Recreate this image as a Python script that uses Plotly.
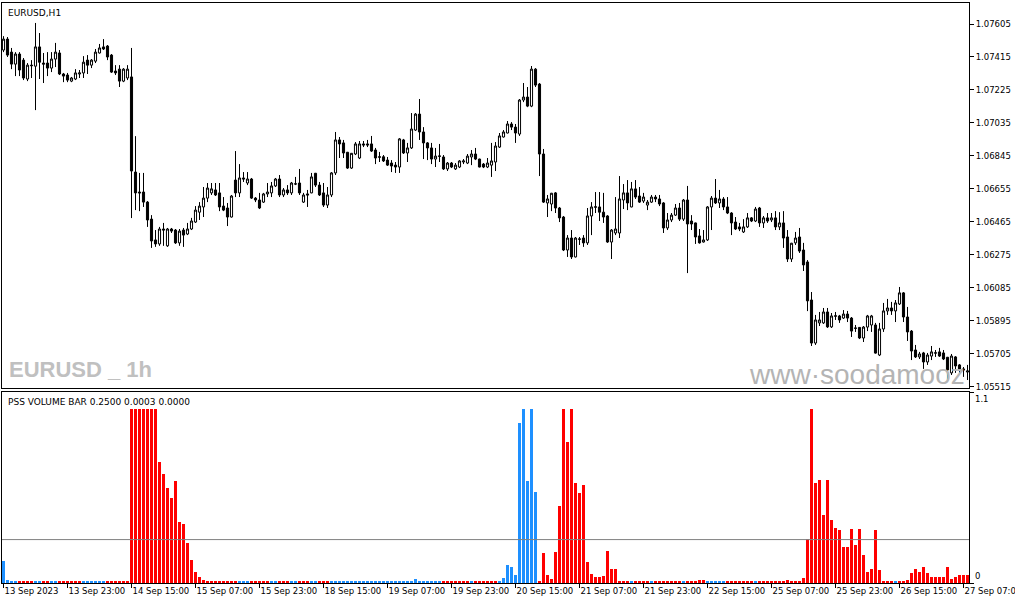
import plotly.graph_objects as go

# ---------------- data ----------------
opens = [
    1.07455, 1.07518, 1.07443, 1.07374, 1.07432, 1.07397, 1.07288, 1.07368, 1.07362, 1.07473,
    1.07380, 1.07380, 1.07351, 1.07403, 1.07438, 1.07317, 1.07311, 1.07276, 1.07288, 1.07317,
    1.07323, 1.07397, 1.07368, 1.07391, 1.07438, 1.07473, 1.07478, 1.07426, 1.07334, 1.07345,
    1.07276, 1.07294, 1.07300, 1.06752, 1.06637, 1.06637, 1.06579, 1.06481, 1.06361, 1.06338,
    1.06424, 1.06327, 1.06424, 1.06418, 1.06344, 1.06418, 1.06395, 1.06424, 1.06464, 1.06521,
    1.06551, 1.06602, 1.06632, 1.06649, 1.06632, 1.06556, 1.06545, 1.06493, 1.06706, 1.06632,
    1.06718, 1.06689, 1.06712, 1.06602, 1.06591, 1.06579, 1.06626, 1.06632, 1.06672, 1.06712,
    1.06620, 1.06649, 1.06632, 1.06683, 1.06689, 1.06579, 1.06626, 1.06632, 1.06745, 1.06677,
    1.06632, 1.06562, 1.06620, 1.06747, 1.06937, 1.06920, 1.06866, 1.06775, 1.06856, 1.06833,
    1.06914, 1.06914, 1.06914, 1.06879, 1.06840, 1.06840, 1.06821, 1.06804, 1.06792, 1.06781,
    1.06937, 1.06862, 1.06891, 1.06994, 1.07086, 1.06983, 1.06920, 1.06891, 1.06827, 1.06845,
    1.06839, 1.06770, 1.06804, 1.06770, 1.06781, 1.06810, 1.06804, 1.06839, 1.06856, 1.06827,
    1.06798, 1.06781, 1.06792, 1.06810, 1.06896, 1.06954, 1.06977, 1.07029, 1.07011, 1.06971,
    1.07167, 1.07184, 1.07132, 1.07345, 1.07259, 1.06856, 1.06574, 1.06568, 1.06632, 1.06545,
    1.06493, 1.06303, 1.06372, 1.06263, 1.06367, 1.06372, 1.06344, 1.06499, 1.06552, 1.06551,
    1.06521, 1.06499, 1.06349, 1.06401, 1.06401, 1.06591, 1.06632, 1.06551, 1.06655, 1.06614,
    1.06585, 1.06562, 1.06579, 1.06608, 1.06597, 1.06574, 1.06430, 1.06476, 1.06504, 1.06545,
    1.06481, 1.06591, 1.06470, 1.06459, 1.06384, 1.06349, 1.06361, 1.06551, 1.06602, 1.06574,
    1.06597, 1.06551, 1.06516, 1.06464, 1.06436, 1.06407, 1.06436, 1.06488, 1.06470, 1.06545,
    1.06459, 1.06488, 1.06476, 1.06488, 1.06436, 1.06459, 1.06378, 1.06251, 1.06344, 1.06378,
    1.06303, 1.06234, 1.06015, 1.05767, 1.05883, 1.05883, 1.05946, 1.05860, 1.05924, 1.05923,
    1.05911, 1.05934, 1.05911, 1.05854, 1.05857, 1.05796, 1.05859, 1.05871, 1.05871, 1.05698,
    1.05848, 1.05952, 1.05969, 1.05952, 1.05992, 1.06056, 1.05917, 1.05836, 1.05727, 1.05687,
    1.05710, 1.05658, 1.05692, 1.05711, 1.05716, 1.05710, 1.05685, 1.05595, 1.05687, 1.05641,
    1.05618, 1.05600,
]
highs = [
    1.07535, 1.07530, 1.07467, 1.07443, 1.07443, 1.07409, 1.07380, 1.07397, 1.07611, 1.07553,
    1.07438, 1.07443, 1.07443, 1.07496, 1.07455, 1.07323, 1.07323, 1.07300, 1.07345, 1.07340,
    1.07420, 1.07426, 1.07403, 1.07461, 1.07490, 1.07518, 1.07484, 1.07432, 1.07368, 1.07368,
    1.07351, 1.07368, 1.07467, 1.06959, 1.06747, 1.06747, 1.06585, 1.06504, 1.06418, 1.06436,
    1.06459, 1.06430, 1.06430, 1.06424, 1.06424, 1.06430, 1.06459, 1.06488, 1.06556, 1.06579,
    1.06666, 1.06689, 1.06689, 1.06689, 1.06689, 1.06608, 1.06574, 1.06620, 1.06873, 1.06798,
    1.06752, 1.06752, 1.06718, 1.06608, 1.06632, 1.06632, 1.06689, 1.06695, 1.06718, 1.06735,
    1.06660, 1.06677, 1.06695, 1.06724, 1.06770, 1.06632, 1.06649, 1.06747, 1.06747, 1.06695,
    1.06689, 1.06666, 1.06752, 1.06983, 1.06954, 1.06937, 1.06868, 1.06862, 1.06925, 1.06931,
    1.06931, 1.06937, 1.06960, 1.06891, 1.06868, 1.06850, 1.06839, 1.06821, 1.06810, 1.06948,
    1.06943, 1.06920, 1.07092, 1.07092, 1.07173, 1.07011, 1.06925, 1.06920, 1.06891, 1.06914,
    1.06850, 1.06810, 1.06810, 1.06804, 1.06821, 1.06827, 1.06856, 1.06879, 1.06891, 1.06829,
    1.06804, 1.06833, 1.06920, 1.06925, 1.06977, 1.06994, 1.07046, 1.07040, 1.07029, 1.07173,
    1.07265, 1.07242, 1.07363, 1.07351, 1.07265, 1.06885, 1.06620, 1.06632, 1.06637, 1.06551,
    1.06499, 1.06389, 1.06418, 1.06378, 1.06378, 1.06389, 1.06545, 1.06579, 1.06637, 1.06637,
    1.06632, 1.06504, 1.06424, 1.06608, 1.06729, 1.06683, 1.06706, 1.06695, 1.06706, 1.06666,
    1.06632, 1.06591, 1.06620, 1.06620, 1.06620, 1.06579, 1.06516, 1.06516, 1.06568, 1.06574,
    1.06597, 1.06672, 1.06504, 1.06461, 1.06424, 1.06418, 1.06556, 1.06614, 1.06712, 1.06649,
    1.06608, 1.06608, 1.06521, 1.06493, 1.06459, 1.06481, 1.06516, 1.06493, 1.06551, 1.06551,
    1.06499, 1.06516, 1.06516, 1.06527, 1.06521, 1.06527, 1.06418, 1.06344, 1.06407, 1.06430,
    1.06344, 1.06245, 1.06061, 1.05929, 1.05946, 1.05969, 1.05969, 1.05940, 1.05946, 1.05929,
    1.05957, 1.05952, 1.05917, 1.05871, 1.05859, 1.05865, 1.05929, 1.05929, 1.05883, 1.05883,
    1.05998, 1.06021, 1.06004, 1.06015, 1.06090, 1.06061, 1.05975, 1.05842, 1.05756, 1.05716,
    1.05716, 1.05710, 1.05750, 1.05727, 1.05739, 1.05727, 1.05687, 1.05704, 1.05692, 1.05646,
    1.05629, 1.05641,
]
lows = [
    1.07443, 1.07415, 1.07345, 1.07305, 1.07305, 1.07282, 1.07276, 1.07294, 1.07109, 1.07288,
    1.07265, 1.07305, 1.07328, 1.07357, 1.07311, 1.07270, 1.07270, 1.07270, 1.07282, 1.07294,
    1.07294, 1.07317, 1.07351, 1.07380, 1.07435, 1.07455, 1.07397, 1.07323, 1.07311, 1.07242,
    1.07270, 1.07282, 1.06487, 1.06533, 1.06527, 1.06551, 1.06436, 1.06315, 1.06321, 1.06327,
    1.06327, 1.06321, 1.06401, 1.06338, 1.06327, 1.06321, 1.06389, 1.06418, 1.06459, 1.06476,
    1.06493, 1.06579, 1.06620, 1.06614, 1.06527, 1.06527, 1.06441, 1.06490, 1.06608, 1.06608,
    1.06695, 1.06677, 1.06597, 1.06579, 1.06539, 1.06574, 1.06608, 1.06608, 1.06666, 1.06608,
    1.06608, 1.06620, 1.06620, 1.06677, 1.06620, 1.06574, 1.06551, 1.06630, 1.06666, 1.06614,
    1.06551, 1.06545, 1.06608, 1.06735, 1.06833, 1.06833, 1.06770, 1.06770, 1.06850, 1.06827,
    1.06896, 1.06896, 1.06868, 1.06798, 1.06810, 1.06810, 1.06787, 1.06752, 1.06747, 1.06747,
    1.06856, 1.06810, 1.06885, 1.06989, 1.06937, 1.06827, 1.06821, 1.06798, 1.06781, 1.06810,
    1.06764, 1.06758, 1.06775, 1.06764, 1.06775, 1.06798, 1.06798, 1.06792, 1.06821, 1.06779,
    1.06775, 1.06775, 1.06724, 1.06758, 1.06891, 1.06951, 1.06975, 1.06994, 1.06920, 1.06960,
    1.07155, 1.07126, 1.07126, 1.07242, 1.06729, 1.06574, 1.06493, 1.06527, 1.06516, 1.06464,
    1.06297, 1.06263, 1.06251, 1.06260, 1.06332, 1.06321, 1.06332, 1.06389, 1.06516, 1.06470,
    1.06459, 1.06344, 1.06251, 1.06389, 1.06372, 1.06539, 1.06533, 1.06549, 1.06597, 1.06574,
    1.06574, 1.06533, 1.06574, 1.06579, 1.06556, 1.06401, 1.06418, 1.06464, 1.06499, 1.06470,
    1.06470, 1.06170, 1.06418, 1.06338, 1.06340, 1.06346, 1.06355, 1.06418, 1.06568, 1.06545,
    1.06533, 1.06510, 1.06389, 1.06418, 1.06412, 1.06401, 1.06430, 1.06464, 1.06464, 1.06436,
    1.06430, 1.06459, 1.06464, 1.06418, 1.06418, 1.06315, 1.06234, 1.06234, 1.06332, 1.06286,
    1.06182, 1.05951, 1.05750, 1.05756, 1.05865, 1.05877, 1.05854, 1.05854, 1.05900, 1.05883,
    1.05906, 1.05888, 1.05802, 1.05831, 1.05790, 1.05773, 1.05836, 1.05831, 1.05706, 1.05692,
    1.05831, 1.05929, 1.05929, 1.05888, 1.05986, 1.05888, 1.05779, 1.05669, 1.05681, 1.05675,
    1.05618, 1.05641, 1.05669, 1.05687, 1.05687, 1.05669, 1.05560, 1.05583, 1.05595, 1.05589,
    1.05572, 1.05554,
]
closes = [
    1.07518, 1.07426, 1.07374, 1.07432, 1.07340, 1.07294, 1.07368, 1.07365, 1.07473, 1.07385,
    1.07374, 1.07351, 1.07403, 1.07443, 1.07317, 1.07305, 1.07282, 1.07294, 1.07323, 1.07323,
    1.07385, 1.07368, 1.07397, 1.07443, 1.07467, 1.07461, 1.07415, 1.07328, 1.07323, 1.07276,
    1.07345, 1.07345, 1.06758, 1.06632, 1.06632, 1.06579, 1.06476, 1.06355, 1.06338, 1.06424,
    1.06418, 1.06424, 1.06412, 1.06344, 1.06412, 1.06389, 1.06424, 1.06470, 1.06533, 1.06556,
    1.06602, 1.06660, 1.06655, 1.06620, 1.06551, 1.06533, 1.06493, 1.06614, 1.06632, 1.06718,
    1.06712, 1.06712, 1.06602, 1.06591, 1.06545, 1.06626, 1.06637, 1.06672, 1.06712, 1.06620,
    1.06649, 1.06632, 1.06689, 1.06684, 1.06632, 1.06620, 1.06620, 1.06724, 1.06677, 1.06620,
    1.06562, 1.06620, 1.06747, 1.06937, 1.06914, 1.06862, 1.06775, 1.06860, 1.06914, 1.06914,
    1.06908, 1.06908, 1.06873, 1.06833, 1.06838, 1.06816, 1.06792, 1.06787, 1.06781, 1.06943,
    1.06862, 1.06891, 1.07000, 1.07086, 1.06983, 1.06920, 1.06891, 1.06827, 1.06844, 1.06843,
    1.06770, 1.06804, 1.06781, 1.06792, 1.06816, 1.06816, 1.06844, 1.06856, 1.06827, 1.06781,
    1.06781, 1.06804, 1.06816, 1.06902, 1.06960, 1.06983, 1.07029, 1.07011, 1.06977, 1.07167,
    1.07184, 1.07132, 1.07345, 1.07253, 1.06856, 1.06579, 1.06597, 1.06630, 1.06545, 1.06488,
    1.06303, 1.06372, 1.06263, 1.06372, 1.06365, 1.06344, 1.06499, 1.06551, 1.06550, 1.06521,
    1.06493, 1.06349, 1.06418, 1.06424, 1.06597, 1.06632, 1.06574, 1.06655, 1.06608, 1.06579,
    1.06608, 1.06579, 1.06608, 1.06597, 1.06568, 1.06430, 1.06476, 1.06504, 1.06545, 1.06481,
    1.06591, 1.06453, 1.06453, 1.06378, 1.06344, 1.06361, 1.06551, 1.06602, 1.06574, 1.06597,
    1.06551, 1.06516, 1.06459, 1.06424, 1.06424, 1.06436, 1.06488, 1.06470, 1.06539, 1.06459,
    1.06488, 1.06470, 1.06488, 1.06436, 1.06459, 1.06372, 1.06251, 1.06342, 1.06372, 1.06297,
    1.06217, 1.06010, 1.05767, 1.05900, 1.05900, 1.05946, 1.05860, 1.05923, 1.05922, 1.05900,
    1.05934, 1.05911, 1.05836, 1.05852, 1.05796, 1.05859, 1.05923, 1.05923, 1.05709, 1.05848,
    1.05952, 1.05969, 1.05952, 1.05998, 1.06056, 1.05917, 1.05831, 1.05721, 1.05687, 1.05704,
    1.05658, 1.05698, 1.05716, 1.05709, 1.05692, 1.05675, 1.05612, 1.05692, 1.05635, 1.05618,
    1.05612, 1.05606,
]

# PSS volume bar values and direction (B = blue / up, R = red / down)
vol_values = [
    0.125, 0.015, 0.006, 0.006, 0.006, 0.006, 0.006, 0.006, 0.012, 0.006,
    0.006, 0.006, 0.006, 0.006, 0.006, 0.006, 0.006, 0.006, 0.006, 0.006,
    0.006, 0.006, 0.006, 0.006, 0.006, 0.012, 0.006, 0.006, 0.006, 0.006,
    0.006, 0.006, 1.0, 1.0, 1.0, 1.0, 1.0, 1.0, 1.0, 0.698,
    0.627, 0.546, 0.488, 0.588, 0.353, 0.338, 0.228, 0.135, 0.065, 0.036,
    0.015, 0.010, 0.006, 0.006, 0.010, 0.010, 0.010, 0.006, 0.006, 0.006,
    0.006, 0.006, 0.006, 0.006, 0.006, 0.006, 0.006, 0.006, 0.006, 0.006,
    0.006, 0.006, 0.006, 0.006, 0.006, 0.006, 0.006, 0.006, 0.006, 0.006,
    0.006, 0.006, 0.006, 0.006, 0.006, 0.006, 0.006, 0.006, 0.006, 0.006,
    0.006, 0.006, 0.006, 0.006, 0.006, 0.006, 0.006, 0.006, 0.006, 0.006,
    0.006, 0.006, 0.006, 0.025, 0.010, 0.006, 0.006, 0.006, 0.006, 0.006,
    0.006, 0.006, 0.006, 0.006, 0.006, 0.006, 0.006, 0.006, 0.006, 0.006,
    0.006, 0.006, 0.006, 0.006, 0.010, 0.030, 0.106, 0.094, 0.044, 0.922,
    1.0, 0.588, 1.0, 0.523, 0.006, 0.175, 0.048, 0.025, 0.181, 0.442,
    1.0, 0.814, 1.0, 0.575, 0.521, 0.563, 0.123, 0.054, 0.036, 0.036,
    0.042, 0.187, 0.083, 0.083, 0.006, 0.006, 0.006, 0.006, 0.006, 0.006,
    0.006, 0.006, 0.006, 0.006, 0.006, 0.006, 0.006, 0.006, 0.006, 0.006,
    0.006, 0.006, 0.006, 0.010, 0.015, 0.015, 0.006, 0.006, 0.006, 0.006,
    0.006, 0.006, 0.006, 0.006, 0.006, 0.006, 0.006, 0.006, 0.006, 0.006,
    0.006, 0.006, 0.006, 0.006, 0.006, 0.006, 0.020, 0.006, 0.006, 0.010,
    0.030, 0.256, 1.0, 0.574, 0.594, 0.390, 0.594, 0.363, 0.316, 0.305,
    0.206, 0.206, 0.309, 0.218, 0.309, 0.160, 0.061, 0.083, 0.303, 0.073,
    0.010, 0.006, 0.006, 0.006, 0.006, 0.006, 0.015, 0.056, 0.080, 0.066,
    0.094, 0.058, 0.036, 0.036, 0.032, 0.036, 0.090, 0.025, 0.036, 0.044,
    0.048, 0.044,
]
vol_dir = (
    "BBBBRRRRBB" "RRBBRRRRRR" "BBBBBBRRRR" "RRRRRRRRRR" "RRRRRRRRRR"
    "RRRRRRRRRB" "BBRRRRRBBR" "RRBBRRRBBR" "RRBBBBBBBB" "BBBBBBBBBB"
    "BBBBBBBBBB" "RRRRRRRBRR" "RRRRBBBBBB" "BBBBRRRRRR" "RRRRRRRRRR"
    "RRRRRRRBRR" "RRBRRRRRRR" "BRRRRRBBBB" "BRRRRRRRBR" "RRRRRRRRRR"
    "RRRRRRRRRR" "RRRRRRRRRR" "RRRBRRRRRR" "RRRRRRRRRR" "RR"
)
level_value = 0.25

tick_positions = [0, 16, 32, 48, 64, 80, 96, 112, 128, 144, 160, 176, 192, 208, 224, 240]
tick_labels = ["13 Sep 2023", "13 Sep 23:00", "14 Sep 15:00", "15 Sep 07:00",
               "15 Sep 23:00", "18 Sep 15:00", "19 Sep 07:00", "19 Sep 23:00",
               "20 Sep 15:00", "21 Sep 07:00", "21 Sep 23:00", "22 Sep 15:00",
               "25 Sep 07:00", "25 Sep 23:00", "26 Sep 15:00", "27 Sep 07:00"]
price_ticks = [1.05515, 1.05705, 1.05895, 1.06085, 1.06275, 1.06465,
               1.06655, 1.06845, 1.07035, 1.07225, 1.07415, 1.07605]

# ---------------- figure ----------------
bar_index = list(range(len(opens)))
color_map = {"B": "#1E90FF", "R": "#FF0000"}
vol_colors = [color_map[d] for d in vol_dir]

FONT = "DejaVu Sans"
W, H = 1015, 605
ML, MR, MT, MB = 2, 46, 3, 22
plot_h = H - MT - MB
main_bottom_px, lower_top_px = 388, 392
main_domain = [(H - MB - main_bottom_px) / plot_h, 1.0]
lower_domain = [0.0, (H - MB - lower_top_px) / plot_h]

fig = go.Figure()

fig.add_trace(go.Candlestick(
    x=bar_index, open=opens, high=highs, low=lows, close=closes,
    xaxis="x2", yaxis="y2",
    increasing=dict(line=dict(color="black", width=1), fillcolor="white"),
    decreasing=dict(line=dict(color="black", width=1), fillcolor="black"),
    whiskerwidth=0, showlegend=False, hoverinfo="skip",
))

fig.add_trace(go.Bar(
    x=bar_index, y=vol_values, xaxis="x", yaxis="y",
    marker=dict(color=vol_colors, line=dict(width=0)),
    width=0.75, showlegend=False, hoverinfo="skip",
))

x_range = [-0.375, len(opens) - 0.625]

fig.update_layout(
    width=W, height=H,
    margin=dict(l=ML, r=MR, t=MT, b=MB, pad=0),
    paper_bgcolor="white", plot_bgcolor="white",
    template="none",
    boxgap=0.25,
    bargap=0,
    showlegend=False,
    font=dict(family=FONT, size=9, color="black"),
    xaxis=dict(
        domain=[0, 1], anchor="y", range=x_range,
        tickmode="array", tickvals=tick_positions, ticktext=tick_labels,
        ticks="outside", ticklen=4, tickcolor="black", tickwidth=1,
        ticklabelposition="outside right", tickangle=0,
        ticklabeloverflow="allow",
        tickfont=dict(family=FONT, size=8.5, color="black"),
        showline=True, linecolor="black", linewidth=1, mirror=True,
        showgrid=False, zeroline=False, automargin=False,
    ),
    xaxis2=dict(
        domain=[0, 1], anchor="y2", matches="x", range=x_range,
        showticklabels=False, ticks="",
        showline=True, linecolor="black", linewidth=1, mirror=True,
        showgrid=False, zeroline=False, automargin=False,
        rangeslider=dict(visible=False),
    ),
    yaxis=dict(
        domain=lower_domain, anchor="x", side="right", range=[0, 1.1],
        tickmode="array", tickvals=[0, 1.1], showticklabels=False,
        ticks="outside", ticklen=4, tickcolor="black",
        showline=True, linecolor="black", linewidth=1, mirror=True,
        showgrid=False, zeroline=False, automargin=False,
    ),
    yaxis2=dict(
        domain=main_domain, anchor="x2", side="right", range=[1.05508, 1.07726],
        tickmode="array", tickvals=price_ticks,
        ticktext=[f"{p:.5f}" for p in price_ticks],
        ticks="outside", ticklen=4, tickcolor="black",
        tickfont=dict(family=FONT, size=8.5, color="black"),
        showline=True, linecolor="black", linewidth=1, mirror=True,
        showgrid=False, zeroline=False, automargin=False,
    ),
)

# level line of the indicator
fig.add_shape(type="line", xref="x domain", yref="y", x0=0, x1=1,
              y0=level_value, y1=level_value,
              line=dict(color="#808080", width=1))

# texts
fig.add_annotation(text="EURUSD,H1", xref="paper", yref="paper", x=0, y=1,
                   xanchor="left", yanchor="top", xshift=4, yshift=-3,
                   showarrow=False, font=dict(family=FONT, size=9, color="black"))
fig.add_annotation(text="PSS VOLUME BAR 0.2500 0.0003 0.0000", xref="paper", yref="paper",
                   x=0, y=lower_domain[1], xanchor="left", yanchor="top",
                   xshift=4, yshift=-3, showarrow=False,
                   font=dict(family=FONT, size=9, color="black"))
fig.add_annotation(text="1.1", xref="paper", yref="y", x=1, y=1.1,
                   xanchor="left", yanchor="top", xshift=4, showarrow=False,
                   font=dict(family=FONT, size=8.5, color="black"))
fig.add_annotation(text="0", xref="paper", yref="y", x=1, y=0,
                   xanchor="left", yanchor="bottom", xshift=4, showarrow=False,
                   font=dict(family=FONT, size=8.5, color="black"))
fig.add_annotation(text="<b>EURUSD _ 1h</b>", xref="paper", yref="paper",
                   x=0, y=(H - MB - 369) / plot_h, xanchor="left", yanchor="middle",
                   xshift=5, showarrow=False,
                   font=dict(family="Liberation Sans, Arial, sans-serif",
                             size=22, color="#C0C0C0"))
fig.add_annotation(text="www·soodamooz", xref="paper", yref="paper",
                   x=1, y=(H - MB - 374) / plot_h, xanchor="right", yanchor="middle",
                   xshift=-2, showarrow=False,
                   font=dict(family="Liberation Sans, Arial, sans-serif",
                             size=28, color="#B4B4B4"))

fig.write_html("out.html", config={"displayModeBar": False},
               post_script="document.body.style.margin='0px';")
